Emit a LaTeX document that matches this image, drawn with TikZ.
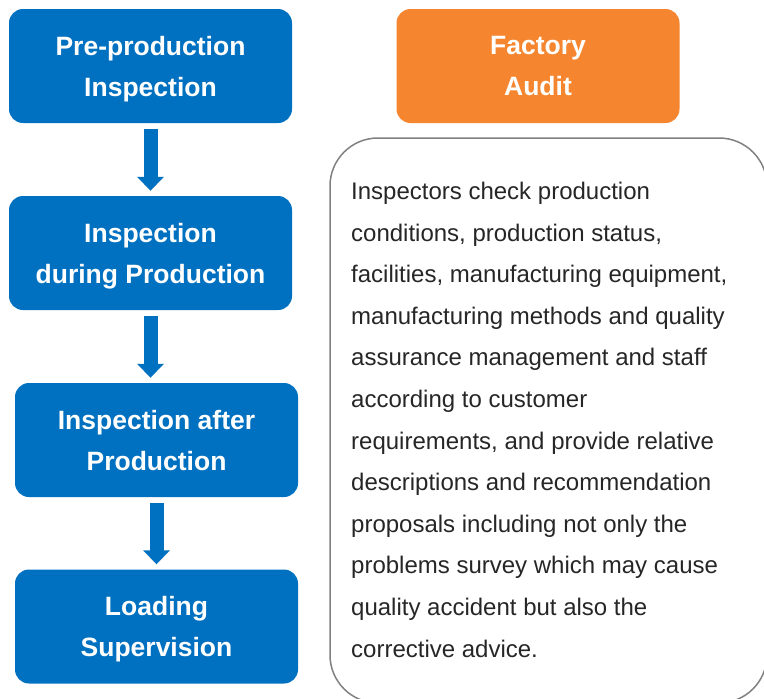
\documentclass[tikz,border=0pt]{standalone}
\usepackage{fontspec}
\setmainfont{Liberation Sans}
\usetikzlibrary{arrows.meta}

\definecolor{stepblue}{HTML}{0070C0}
\definecolor{auditorange}{HTML}{F5862F}
\definecolor{framegray}{HTML}{808080}
\definecolor{textgray}{HTML}{262626}

\tikzset{
	stage/.style={rectangle, rounded corners=14pt, fill=#1, text=white,
		minimum width=283pt, minimum height=114pt, align=center, text depth=0pt,
		font=\fontsize{26.5}{41}\selectfont\bfseries, inner sep=0pt},
	stage/.default=stepblue,
	flow/.style={stepblue, line width=14pt,
		-{Triangle[width=26pt,length=14pt]}, shorten <=6pt, shorten >=5pt}
}

\begin{document}
\begin{tikzpicture}[x=1pt,y=-1pt]
	\useasboundingbox (0,0) rectangle (764,699);
	\clip (0,0) rectangle (764,699);
	
	% inspection stages
	\node[stage] (pre) at (150.5,66) {Pre-production\\Inspection};
	\node[stage] (during) at (150.5,253) {Inspection\\during Production};
	\node[stage] (after) at (156.5,440) {Inspection after\\Production};
	\node[stage] (loading) at (156.5,626.5) {Loading\\Supervision};
	\node[stage=auditorange] (audit) at (538,66) {Factory\\Audit};
	
	\draw[flow] (pre.south) -- (during.north);
	\draw[flow] (during.south) -- (during.south |- after.north);
	\draw[flow] (after.south) -- (loading.north);
	
	% description frame
	\draw[framegray, line width=1.5pt, rounded corners=48pt] (330,138) rectangle (767,703);
	\node[anchor=base west, align=left, inner sep=0pt, text=textgray,
		font=\fontsize{24}{41.6}\selectfont] (desc) at (351,657)
		{Inspectors check production\\
		conditions, production status,\\
		facilities, manufacturing equipment,\\
		manufacturing methods and quality\\
		assurance management and staff\\
		according to customer\\
		requirements, and provide relative\\
		descriptions and recommendation\\
		proposals including not only the\\
		problems survey which may cause\\
		quality accident but also the\\
		corrective advice.};
\end{tikzpicture}
\end{document}
